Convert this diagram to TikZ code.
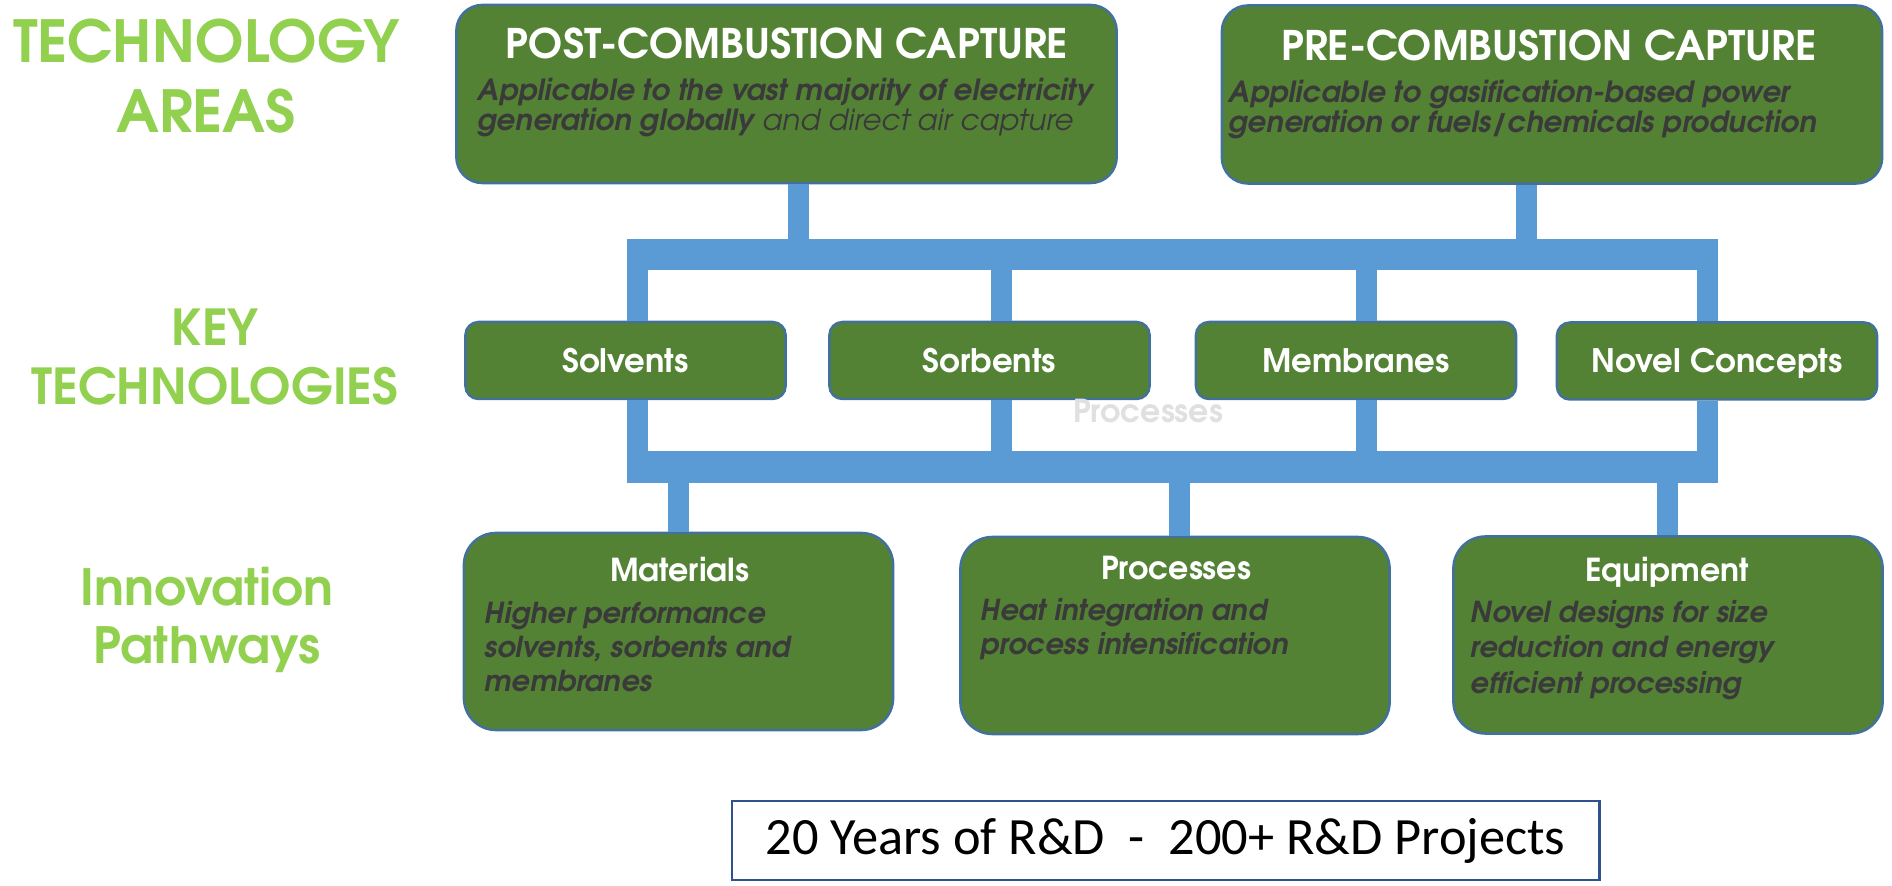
\documentclass[tikz,border=0pt]{standalone}
\usepackage{fontspec}
\setmainfont{TeX Gyre Adventor}
\newfontfamily\calibri{Carlito}

\definecolor{boxgreen}{RGB}{84,130,53}
\definecolor{boxline}{RGB}{65,113,156}
\definecolor{barblue}{RGB}{91,155,213}
\definecolor{labelgreen}{RGB}{146,208,80}
\definecolor{bodygray}{RGB}{58,58,58}
\definecolor{countline}{RGB}{47,82,143}

\tikzset{
  rowlabel/.style={text=labelgreen, align=center, inner sep=0pt},
  greenbox/.style={draw=boxline, line width=0.7pt, fill=boxgreen, inner sep=0pt},
  areabox/.style={greenbox, rounded corners=0.26cm, minimum width=6.6cm, minimum height=1.78cm},
  keybox/.style={greenbox, rounded corners=0.13cm, minimum width=3.2cm, minimum height=0.77cm,
    text=white, font=\fontsize{9.2}{11}\selectfont\bfseries, text height=0.24cm, text depth=0pt},
  pathbox/.style={greenbox, rounded corners=0.32cm, minimum width=4.29cm, minimum height=1.97cm},
  boxtitle/.style={text=white, inner sep=0pt, anchor=base},
  boxbody/.style={text=bodygray, inner sep=0pt, align=left, anchor=base west},
  hbar/.style={draw=barblue, line width=0.31cm},
  vbar/.style={draw=barblue, line width=0.21cm},
  countbox/.style={draw=countline, line width=0.7pt, minimum width=8.67cm, minimum height=0.79cm,
    font=\calibri\fontsize{14.9}{17}\selectfont}
}

\begin{document}
\begin{tikzpicture}[x=0.01cm,y=-0.01cm]
  \useasboundingbox (0,0) rectangle (1892,886);

  % row labels
  \node[rowlabel, font=\fontsize{16.5}{19.9}\selectfont\bfseries] (areas) at (206,76) {TECHNOLOGY\\AREAS};
  \node[rowlabel, font=\fontsize{14.1}{16.8}\selectfont\bfseries] (keytech) at (215,357) {KEY\\TECHNOLOGIES};
  \node[rowlabel, font=\fontsize{14.2}{16.5}\selectfont\bfseries] (pathways) at (207,620) {Innovation\\Pathways};

  % technology areas
  \node[areabox] (post) at (786.5,94) {};
  \node[areabox] (pre) at (1552,94.5) {};
  \node[boxtitle, font=\fontsize{11.6}{13}\selectfont\bfseries] (posttitle) at (787,59) {POST-COMBUSTION CAPTURE};
  \node[boxtitle, font=\fontsize{11.6}{13}\selectfont\bfseries] (pretitle) at (1549,61) {PRE-COMBUSTION CAPTURE};
  \node[boxbody, font=\fontsize{8.3}{8.6}\selectfont\bfseries\itshape] (postbody) at (477,131)
    {Applicable to the vast majority of electricity\\generation globally {\mdseries and direct air capture}};
  \node[boxbody, font=\fontsize{8.3}{8.8}\selectfont\bfseries\itshape] (prebody) at (1228,133)
    {Applicable to gasification-based power\\generation or fuels/chemicals production};

  % key technologies
  \node[keybox] (solv) at (625.5,360.5) {Solvents};
  \node[keybox] (sorb) at (989.5,360.5) {Sorbents};
  \node[keybox] (memb) at (1356,360.5) {Membranes};
  \node[keybox] (novel) at (1717,361) {Novel Concepts};
  \node[text=black!12, inner sep=0pt, font=\fontsize{9}{11}\selectfont\bfseries] (ghost) at (1148,411) {Processes};

  % innovation pathways
  \node[pathbox] (mat) at (678.5,631.5) {};
  \node[pathbox] (proc) at (1175,635.5) {};
  \node[pathbox] (equip) at (1668,635) {};
  \node[boxtitle, font=\fontsize{9}{11}\selectfont\bfseries] (mattitle) at (679.5,582) {Materials};
  \node[boxtitle, font=\fontsize{9}{11}\selectfont\bfseries] (proctitle) at (1176,580) {Processes};
  \node[boxtitle, font=\fontsize{9}{11}\selectfont\bfseries] (equiptitle) at (1667,582) {Equipment};
  \node[boxbody, font=\fontsize{8.2}{9.7}\selectfont\bfseries\itshape] (matbody) at (484,692)
    {Higher performance\\solvents, sorbents and\\membranes};
  \node[boxbody, font=\fontsize{8.2}{9.9}\selectfont\bfseries\itshape] (procbody) at (980,655)
    {Heat integration and\\process intensification};
  \node[boxbody, font=\fontsize{8.2}{10}\selectfont\bfseries\itshape] (equipbody) at (1470,693)
    {Novel designs for size\\reduction and energy\\efficient processing};

  % bars
  \coordinate (topL) at (627,254.5);
  \coordinate (topR) at (1718,254.5);
  \coordinate (lowL) at (627,467);
  \coordinate (lowR) at (1718,467);
  \coordinate (postdrop) at (798,254.5);
  \coordinate (predrop) at (1526.5,254.5);
  \coordinate (solvT) at (637.5,254.5);
  \coordinate (sorbT) at (1001,254.5);
  \coordinate (membT) at (1366,254.5);
  \coordinate (novelT) at (1707.5,254.5);
  \coordinate (solvB) at (637.5,467);
  \coordinate (sorbB) at (1001,467);
  \coordinate (membB) at (1366,467);
  \coordinate (novelB) at (1707.5,467);
  \coordinate (matT) at (678.5,467);
  \coordinate (procT) at (1179.5,467);
  \coordinate (equipT) at (1667,467);
  \begin{scope}[line cap=butt]
    \draw[hbar] (topL) -- (topR);
    \draw[hbar] (lowL) -- (lowR);
    \draw[vbar] (post.south -| postdrop) -- (postdrop);
    \draw[vbar] (pre.south -| predrop) -- (predrop);
    \draw[vbar] (solvT) -- (solv.north -| solvT);
    \draw[vbar] (sorbT) -- (sorb.north -| sorbT);
    \draw[vbar] (membT) -- (memb.north -| membT);
    \draw[vbar] (novelT) -- (novel.north -| novelT);
    \draw[vbar] (solv.south -| solvB) -- (solvB);
    \draw[vbar] (sorb.south -| sorbB) -- (sorbB);
    \draw[vbar] (memb.south -| membB) -- (membB);
    \draw[vbar] (novel.south -| novelB) -- (novelB);
    \draw[vbar] (matT) -- (mat.north -| matT);
    \draw[vbar] (procT) -- (proc.north -| procT);
    \draw[vbar] (equipT) -- (equip.north -| equipT);
  \end{scope}

  % footer
  \node[countbox] (count) at (1165.5,840.5) {20 Years of R\&D\ \ -\ \ 200+ R\&D Projects};
\end{tikzpicture}
\end{document}
